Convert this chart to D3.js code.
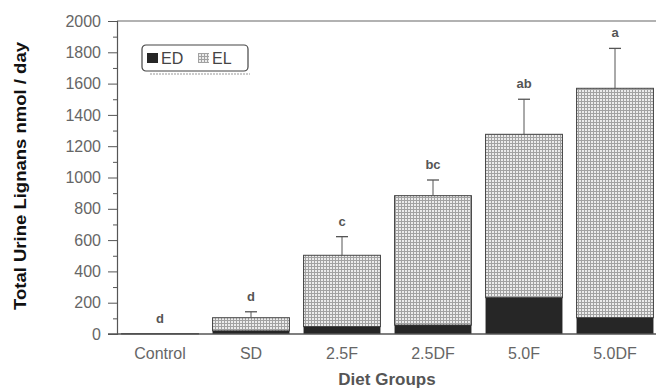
<!DOCTYPE html>
<html>
<head>
<meta charset="utf-8">
<script src="https://cdn.jsdelivr.net/npm/d3@7"></script>
<style>
  body { margin: 0; background: #fff; }
  svg { display: block; font-family: "Liberation Sans", Arial, sans-serif; }
</style>
</head>
<body>
<div id="chart"></div>
<script>
// data
const groups = ["Control", "SD", "2.5F", "2.5DF", "5.0F", "5.0DF"];
const edValues = [0, 20, 47, 57, 232, 104];
const elValues = [3, 84, 456, 827, 1044, 1466];
const seValues = [0, 38, 119, 100, 224, 255];
const letters = ["d", "d", "c", "bc", "ab", "a"];
const yTicks = [0, 200, 400, 600, 800, 1000, 1200, 1400, 1600, 1800, 2000];

const width = 656, height = 389;
const svg = d3.select("#chart").append("svg")
    .attr("width", width)
    .attr("height", height);

// crosshatch pattern for EL
const defs = svg.append("defs");
const pat = defs.append("pattern")
    .attr("id", "hatch")
    .attr("patternUnits", "userSpaceOnUse")
    .attr("width", 3)
    .attr("height", 3);
pat.append("rect").attr("width", 3).attr("height", 3).attr("fill", "#a2a2a2");
pat.append("rect").attr("width", 2).attr("height", 2).attr("fill", "#ececec");

const x = d3.scaleBand()
    .domain(groups)
    .range([114.5, 660.5])
    .paddingInner(0.155)
    .paddingOuter(0.0775);

const y = d3.scaleLinear()
    .domain([0, 2000])
    .range([334, 21]);

const axisColor = "#555";

// top frame line
svg.append("line")
    .attr("x1", 117).attr("x2", width)
    .attr("y1", y(2000)).attr("y2", y(2000))
    .attr("stroke", "#666").attr("stroke-width", 1.2);

// bars
const rows = groups.map((g, i) => ({ g, ed: edValues[i], el: elValues[i], se: seValues[i], letter: letters[i] }));

const bar = svg.selectAll(".bar")
    .data(rows)
    .enter()
    .append("g")
    .attr("class", "bar");

bar.append("rect")
    .attr("x", d => x(d.g))
    .attr("width", x.bandwidth())
    .attr("y", d => y(d.ed + d.el))
    .attr("height", d => y(d.ed) - y(d.ed + d.el))
    .attr("fill", "url(#hatch)")
    .attr("stroke", "#444")
    .attr("stroke-width", 1);

bar.append("rect")
    .attr("x", d => x(d.g))
    .attr("width", x.bandwidth())
    .attr("y", d => y(d.ed))
    .attr("height", d => y(0) - y(d.ed))
    .attr("fill", "#262626");

// error bars
const err = bar.filter(d => d.se > 0);
err.append("line")
    .attr("x1", d => x(d.g) + x.bandwidth() / 2)
    .attr("x2", d => x(d.g) + x.bandwidth() / 2)
    .attr("y1", d => y(d.ed + d.el))
    .attr("y2", d => y(d.ed + d.el + d.se))
    .attr("stroke", "#555").attr("stroke-width", 1);
err.append("line")
    .attr("x1", d => x(d.g) + x.bandwidth() / 2 - 6)
    .attr("x2", d => x(d.g) + x.bandwidth() / 2 + 6)
    .attr("y1", d => y(d.ed + d.el + d.se))
    .attr("y2", d => y(d.ed + d.el + d.se))
    .attr("stroke", "#555").attr("stroke-width", 1.3);

// significance letters
bar.append("text")
    .attr("x", d => x(d.g) + x.bandwidth() / 2)
    .attr("y", d => y(d.ed + d.el + d.se) - 11)
    .attr("text-anchor", "middle")
    .attr("font-size", "13px")
    .attr("font-weight", "bold")
    .attr("fill", "#555")
    .text(d => d.letter);

// y axis
const yAxis = svg.append("g")
    .attr("transform", "translate(117,0)")
    .call(d3.axisLeft(y).tickValues(yTicks).tickFormat(d3.format("d")).tickSize(9).tickPadding(7));
yAxis.select(".domain").attr("stroke", axisColor).attr("stroke-width", 1.2);
yAxis.selectAll(".tick line").attr("stroke", axisColor);
yAxis.selectAll(".tick text")
    .attr("font-size", "16px")
    .attr("font-family", "Liberation Sans, Arial, sans-serif")
    .attr("fill", "#666");

// minor ticks
svg.append("g")
    .attr("transform", "translate(117,0)")
    .call(d3.axisLeft(y).tickValues(d3.range(100, 2000, 200)).tickSize(4).tickFormat(""))
    .call(g => g.select(".domain").remove())
    .selectAll(".tick line").attr("stroke", axisColor);

// x baseline
svg.append("line")
    .attr("x1", 108).attr("x2", width)
    .attr("y1", y(0)).attr("y2", y(0))
    .attr("stroke", axisColor).attr("stroke-width", 1.4);

// x labels
svg.selectAll(".xlab")
    .data(groups)
    .enter()
    .append("text")
    .attr("class", "xlab")
    .attr("x", d => x(d) + x.bandwidth() / 2)
    .attr("y", 359)
    .attr("text-anchor", "middle")
    .attr("font-size", "16px")
    .attr("fill", "#666")
    .text(d => d);

// axis titles
svg.append("text")
    .attr("x", 387)
    .attr("y", 385)
    .attr("text-anchor", "middle")
    .attr("font-size", "17px")
    .attr("font-weight", "bold")
    .attr("fill", "#555")
    .text("Diet Groups");

svg.append("text")
    .attr("transform", "translate(26,176) rotate(-90)")
    .attr("text-anchor", "middle")
    .attr("font-size", "17px")
    .attr("font-weight", "bold")
    .attr("fill", "#111")
    .attr("textLength", 268)
    .attr("lengthAdjust", "spacingAndGlyphs")
    .text("Total Urine Lignans nmol / day");

// legend
const legend = svg.append("g").attr("transform", "translate(142,45)");
legend.append("line")
    .attr("x1", 8).attr("x2", 108).attr("y1", 29).attr("y2", 29)
    .attr("stroke", "#bbb").attr("stroke-width", 1.5).attr("stroke-dasharray", "2,1");
legend.append("rect")
    .attr("width", 106).attr("height", 26)
    .attr("rx", 4)
    .attr("fill", "#fff")
    .attr("stroke", "#444").attr("stroke-width", 1.2);
const legendItems = [
    { label: "ED", fill: "#262626", dx: 5 },
    { label: "EL", fill: "url(#hatch)", dx: 56 }
];
legendItems.forEach(d => {
    legend.append("rect")
        .attr("x", d.dx).attr("y", 8)
        .attr("width", 11).attr("height", 10)
        .attr("fill", d.fill);
    legend.append("text")
        .attr("x", d.dx + 14)
        .attr("y", 19)
        .attr("font-size", "16px")
        .attr("fill", "#444")
        .text(d.label);
});
</script>
</body>
</html>
